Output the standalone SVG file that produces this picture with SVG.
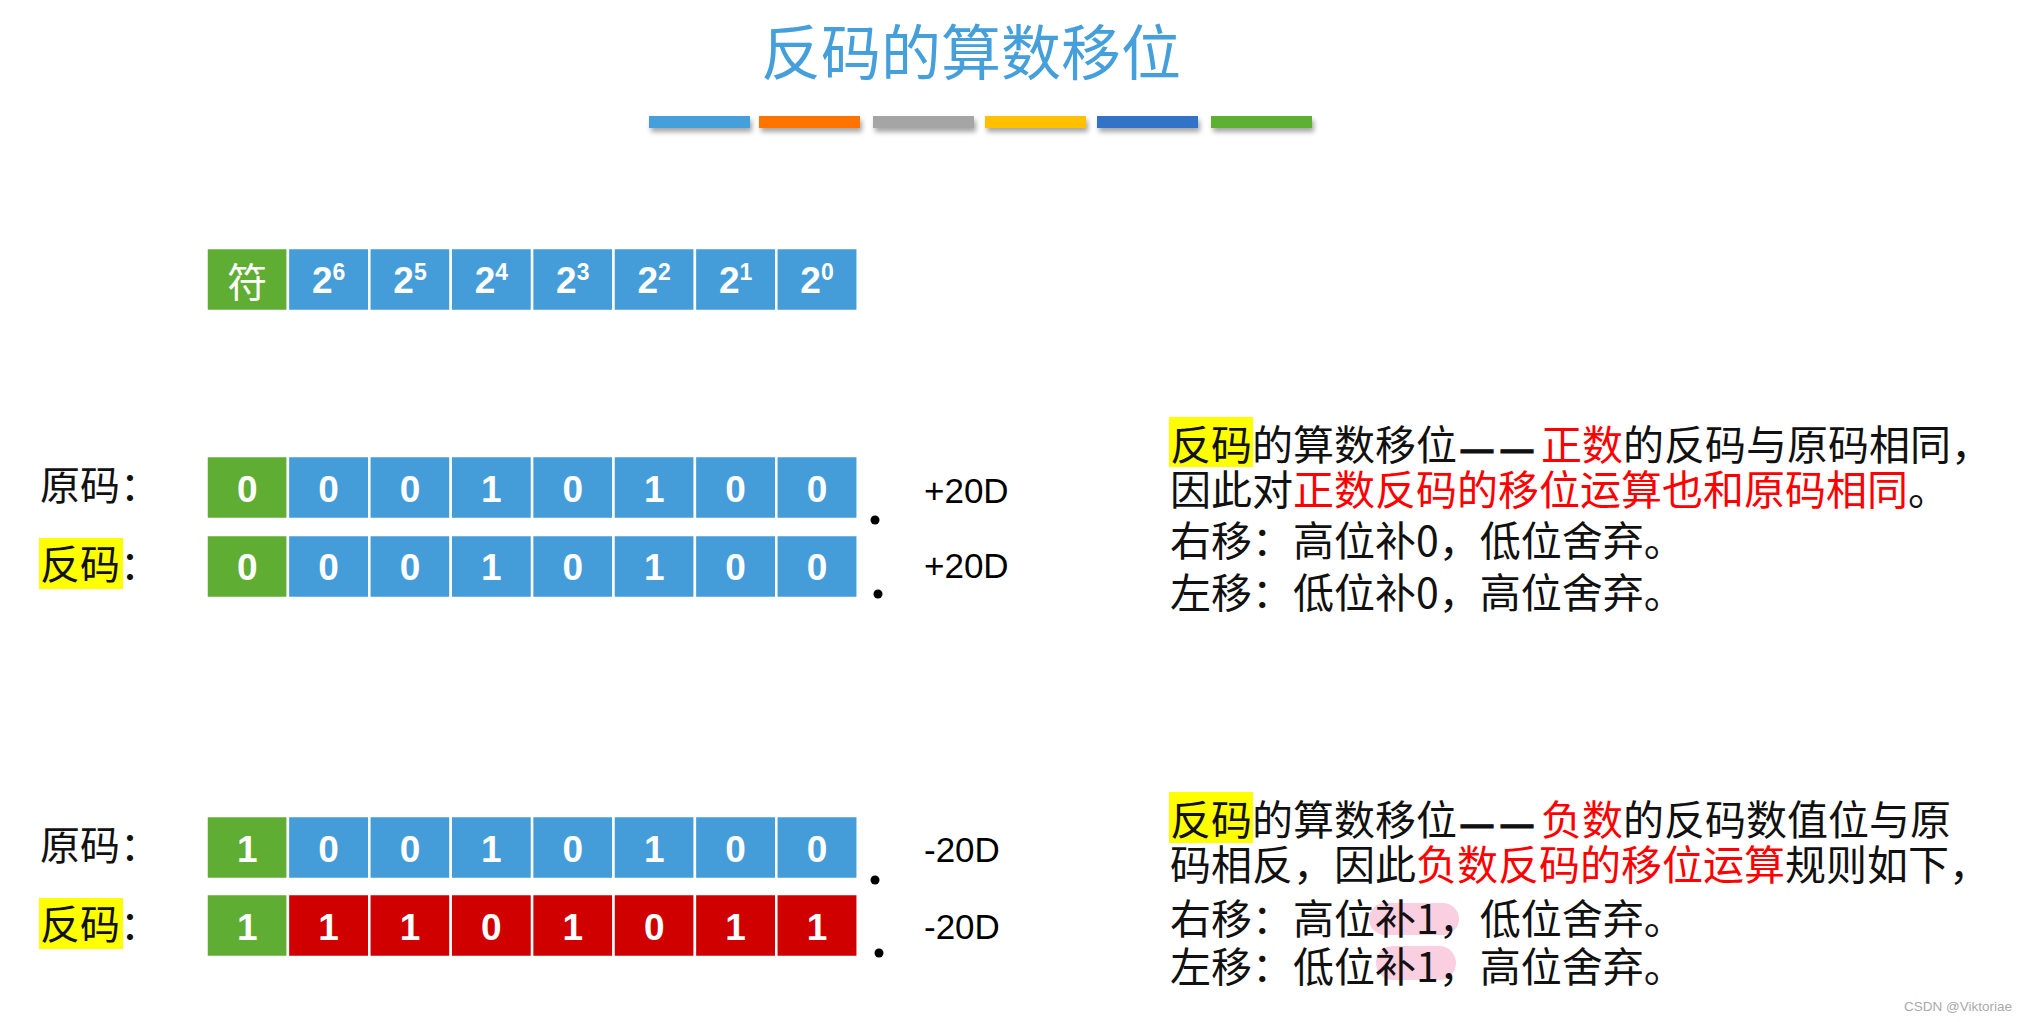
<svg xmlns="http://www.w3.org/2000/svg" width="2028" height="1022" viewBox="0 0 2028 1022">
<defs>
<style>
.cjk{font-family:"Noto Sans CJK SC","Noto Sans",sans-serif;}
.lat{font-family:"Liberation Sans",Arial,sans-serif;}
.cell{stroke:#ffffff;stroke-width:2.5;}
.g{fill:#5fae33;}
.b{fill:#449dd9;}
.r{fill:#d00000;}
.ct{font-family:"Liberation Sans",Arial,sans-serif;font-weight:bold;font-size:37px;fill:#ffffff;text-anchor:middle;}
.lbl{font-family:"Noto Sans CJK SC",sans-serif;font-size:40px;fill:#111;}
.val{font-family:"Liberation Sans",Arial,sans-serif;font-size:35px;fill:#000;}
.txt{font-family:"Noto Sans CJK SC",sans-serif;font-size:41px;fill:#111;}
.dash{font-family:"Liberation Sans",Arial,sans-serif;font-weight:bold;font-size:32px;letter-spacing:8px;stroke:#111;stroke-width:1.2;}
.red{fill:#ff0000;}
.hl{fill:#ffff00;}
.pk{fill:#f9cadd;opacity:0.9;}
</style>
<filter id="sh" x="-10%" y="-50%" width="130%" height="250%">
<feDropShadow dx="2" dy="4" stdDeviation="2.5" flood-color="#000" flood-opacity="0.35"/>
</filter>
</defs>
<rect width="2028" height="1022" fill="#ffffff"/>

<g id="title">
<text x="971" y="75" class="cjk" font-size="60" fill="#449fdb" text-anchor="middle">反码的算数移位</text>
<g filter="url(#sh)">
<rect x="649" y="116" width="101" height="12" fill="#449fdb"/>
<rect x="759" y="116" width="101" height="12" fill="#ff7300"/>
<rect x="873" y="116" width="101" height="12" fill="#a5a5a5"/>
<rect x="985" y="116" width="101" height="12" fill="#ffc000"/>
<rect x="1097" y="116" width="101" height="12" fill="#3373c8"/>
<rect x="1211" y="116" width="101" height="12" fill="#5db033"/>
</g>
</g>

<g id="header-row">
<rect class="cell g" x="206.5" y="248" width="81.4" height="63"/>
<rect class="cell b" x="287.9" y="248" width="81.4" height="63"/>
<rect class="cell b" x="369.3" y="248" width="81.4" height="63"/>
<rect class="cell b" x="450.7" y="248" width="81.4" height="63"/>
<rect class="cell b" x="532.1" y="248" width="81.4" height="63"/>
<rect class="cell b" x="613.5" y="248" width="81.4" height="63"/>
<rect class="cell b" x="694.9" y="248" width="81.4" height="63"/>
<rect class="cell b" x="776.3" y="248" width="81.4" height="63"/>
<text x="247.2" y="297" class="cjk" font-size="40" fill="#fff" text-anchor="middle">符</text>
<text class="ct" x="328.6" y="293">2<tspan font-size="23" dy="-13">6</tspan></text>
<text class="ct" x="410" y="293">2<tspan font-size="23" dy="-13">5</tspan></text>
<text class="ct" x="491.4" y="293">2<tspan font-size="23" dy="-13">4</tspan></text>
<text class="ct" x="572.8" y="293">2<tspan font-size="23" dy="-13">3</tspan></text>
<text class="ct" x="654.2" y="293">2<tspan font-size="23" dy="-13">2</tspan></text>
<text class="ct" x="735.6" y="293">2<tspan font-size="23" dy="-13">1</tspan></text>
<text class="ct" x="817" y="293">2<tspan font-size="23" dy="-13">0</tspan></text>
</g>

<g id="pos-original">
<text class="lbl" x="40" y="500">原码：</text>
<rect class="cell g" x="206.5" y="456" width="81.4" height="63"/>
<rect class="cell b" x="287.9" y="456" width="81.4" height="63"/>
<rect class="cell b" x="369.3" y="456" width="81.4" height="63"/>
<rect class="cell b" x="450.7" y="456" width="81.4" height="63"/>
<rect class="cell b" x="532.1" y="456" width="81.4" height="63"/>
<rect class="cell b" x="613.5" y="456" width="81.4" height="63"/>
<rect class="cell b" x="694.9" y="456" width="81.4" height="63"/>
<rect class="cell b" x="776.3" y="456" width="81.4" height="63"/>
<text class="ct" x="247.2" y="502">0</text>
<text class="ct" x="328.6" y="502">0</text>
<text class="ct" x="410" y="502">0</text>
<text class="ct" x="491.4" y="502">1</text>
<text class="ct" x="572.8" y="502">0</text>
<text class="ct" x="654.2" y="502">1</text>
<text class="ct" x="735.6" y="502">0</text>
<text class="ct" x="817" y="502">0</text>
<circle cx="875" cy="520" r="4.5" fill="#000"/>
<text class="val" x="924" y="503">+20D</text>
</g>

<g id="pos-ones">
<rect class="hl" x="39" y="538" width="84" height="51"/>
<text class="lbl" x="40" y="579">反码：</text>
<rect class="cell g" x="206.5" y="535" width="81.4" height="63"/>
<rect class="cell b" x="287.9" y="535" width="81.4" height="63"/>
<rect class="cell b" x="369.3" y="535" width="81.4" height="63"/>
<rect class="cell b" x="450.7" y="535" width="81.4" height="63"/>
<rect class="cell b" x="532.1" y="535" width="81.4" height="63"/>
<rect class="cell b" x="613.5" y="535" width="81.4" height="63"/>
<rect class="cell b" x="694.9" y="535" width="81.4" height="63"/>
<rect class="cell b" x="776.3" y="535" width="81.4" height="63"/>
<text class="ct" x="247.2" y="580">0</text>
<text class="ct" x="328.6" y="580">0</text>
<text class="ct" x="410" y="580">0</text>
<text class="ct" x="491.4" y="580">1</text>
<text class="ct" x="572.8" y="580">0</text>
<text class="ct" x="654.2" y="580">1</text>
<text class="ct" x="735.6" y="580">0</text>
<text class="ct" x="817" y="580">0</text>
<circle cx="878" cy="594" r="4.5" fill="#000"/>
<text class="val" x="924" y="578">+20D</text>
</g>

<g id="neg-original">
<text class="lbl" x="40" y="860">原码：</text>
<rect class="cell g" x="206.5" y="816" width="81.4" height="63"/>
<rect class="cell b" x="287.9" y="816" width="81.4" height="63"/>
<rect class="cell b" x="369.3" y="816" width="81.4" height="63"/>
<rect class="cell b" x="450.7" y="816" width="81.4" height="63"/>
<rect class="cell b" x="532.1" y="816" width="81.4" height="63"/>
<rect class="cell b" x="613.5" y="816" width="81.4" height="63"/>
<rect class="cell b" x="694.9" y="816" width="81.4" height="63"/>
<rect class="cell b" x="776.3" y="816" width="81.4" height="63"/>
<text class="ct" x="247.2" y="862">1</text>
<text class="ct" x="328.6" y="862">0</text>
<text class="ct" x="410" y="862">0</text>
<text class="ct" x="491.4" y="862">1</text>
<text class="ct" x="572.8" y="862">0</text>
<text class="ct" x="654.2" y="862">1</text>
<text class="ct" x="735.6" y="862">0</text>
<text class="ct" x="817" y="862">0</text>
<circle cx="875" cy="880" r="4.5" fill="#000"/>
<text class="val" x="924" y="862">-20D</text>
</g>

<g id="neg-ones">
<rect class="hl" x="39" y="898" width="84" height="51"/>
<text class="lbl" x="40" y="939">反码：</text>
<rect class="cell g" x="206.5" y="894" width="81.4" height="63"/>
<rect class="cell r" x="287.9" y="894" width="81.4" height="63"/>
<rect class="cell r" x="369.3" y="894" width="81.4" height="63"/>
<rect class="cell r" x="450.7" y="894" width="81.4" height="63"/>
<rect class="cell r" x="532.1" y="894" width="81.4" height="63"/>
<rect class="cell r" x="613.5" y="894" width="81.4" height="63"/>
<rect class="cell r" x="694.9" y="894" width="81.4" height="63"/>
<rect class="cell r" x="776.3" y="894" width="81.4" height="63"/>
<text class="ct" x="247.2" y="940">1</text>
<text class="ct" x="328.6" y="940">1</text>
<text class="ct" x="410" y="940">1</text>
<text class="ct" x="491.4" y="940">0</text>
<text class="ct" x="572.8" y="940">1</text>
<text class="ct" x="654.2" y="940">0</text>
<text class="ct" x="735.6" y="940">1</text>
<text class="ct" x="817" y="940">1</text>
<circle cx="879" cy="953" r="4.5" fill="#000"/>
<text class="val" x="924" y="939">-20D</text>
</g>

<g id="note-positive">
<rect class="hl" x="1169" y="417" width="84" height="50"/>
<text class="txt" x="1170" y="460">反码的算数移位<tspan class="dash" dx="4">——</tspan><tspan class="red">正数</tspan>的反码与原码相同，</text>
<text class="txt" x="1170" y="505">因此对<tspan class="red">正数反码的移位运算也和原码相同</tspan>。</text>
<text class="txt" x="1170" y="556">右移：高位补0，低位舍弃。</text>
<text class="txt" x="1170" y="608">左移：低位补0，高位舍弃。</text>
</g>

<g id="note-negative">
<rect class="hl" x="1169" y="792" width="84" height="51"/>
<rect class="pk" x="1369" y="903" width="90" height="32" rx="16"/>
<rect class="pk" x="1376" y="946" width="80" height="34" rx="17"/>
<text class="txt" x="1170" y="835">反码的算数移位<tspan class="dash" dx="4">——</tspan><tspan class="red">负数</tspan>的反码数值位与原</text>
<text class="txt" x="1170" y="880">码相反，因此<tspan class="red">负数反码的移位运算</tspan>规则如下，</text>
<text class="txt" x="1170" y="934">右移：高位补1，低位舍弃。</text>
<text class="txt" x="1170" y="982">左移：低位补1，高位舍弃。</text>
</g>

<g id="connectors"></g>

<text x="2012" y="1011" class="lat" font-size="13.5" fill="#aaaaaa" text-anchor="end">CSDN @Viktoriae</text>
</svg>
